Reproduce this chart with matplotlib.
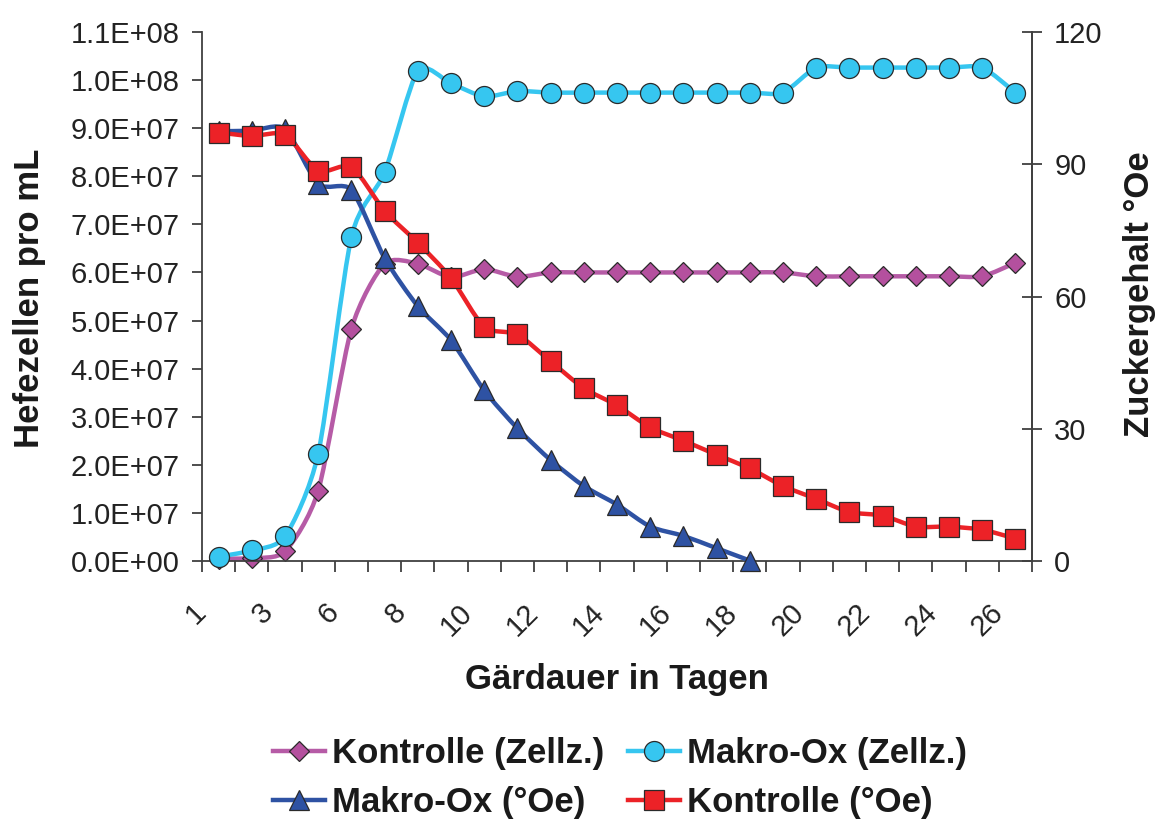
import numpy as np
import matplotlib
matplotlib.use("Agg")
import matplotlib.pyplot as plt
from matplotlib.path import Path
from matplotlib.patches import PathPatch
from matplotlib.lines import Line2D
from matplotlib.ticker import FuncFormatter, MultipleLocator
import matplotlib.transforms as mtransforms

plt.rcParams['font.family'] = ['Liberation Sans', 'DejaVu Sans']

# Gaerdauer (Tage) - one category per measurement
days = [1, 2, 3, 4, 6, 7, 8, 9, 10, 11, 12, 13, 14, 15, 16, 17, 18, 19, 20, 21, 22, 23, 24, 25, 26]

# Hefezellen pro mL
kontrolle_zellz = [0.05e7, 0.06e7, 0.2e7, 1.46e7, 4.83e7, 6.18e7, 6.18e7, 5.9e7, 6.07e7, 5.91e7,
                   6.0e7, 6.0e7, 6.0e7, 6.0e7, 6.0e7, 6.0e7, 6.0e7, 6.0e7, 5.92e7, 5.92e7,
                   5.92e7, 5.92e7, 5.92e7, 5.92e7, 6.2e7]
makro_zellz = [0.09e7, 0.22e7, 0.51e7, 2.23e7, 6.74e7, 8.08e7, 10.19e7, 9.93e7, 9.66e7, 9.77e7,
               9.74e7, 9.74e7, 9.74e7, 9.74e7, 9.74e7, 9.74e7, 9.74e7, 9.74e7, 10.26e7, 10.26e7,
               10.26e7, 10.26e7, 10.26e7, 10.26e7, 9.74e7]

# Zuckergehalt in Oechsle
makro_oe = [97.5, 97.6, 98.0, 85.5, 84.2, 68.7, 57.8, 50.1, 38.7, 30.1,
            22.9, 17.0, 12.8, 7.8, 5.7, 2.9, 0.1]
kontrolle_oe = [97.2, 96.4, 96.7, 88.5, 89.4, 79.4, 72.2, 64.2, 53.1, 51.4,
                45.3, 39.2, 35.3, 30.3, 27.3, 24.1, 21.0, 17.0, 14.1, 11.1,
                10.3, 7.8, 7.8, 7.1, 5.1]

labels = ['Kontrolle (Zellz.)', 'Makro-Ox (Zellz.)', 'Makro-Ox (°Oe)', 'Kontrolle (°Oe)']

c_purple_line = '#b65ba6'
c_purple = '#b4509e'
c_cyan = '#36c6f0'
c_blue = '#2e52a3'
c_red = '#ec2227'
c_edge = '#2a2a2a'
c_axis = '#404040'


def smooth_path(x, y, k=0.12):
    # cardinal spline as cubic bezier, a bit like Excel's "smoothed line"
    pts = np.column_stack([x, y]).astype(float)
    n = len(pts)
    verts = [pts[0]]
    codes = [Path.MOVETO]
    for i in range(n - 1):
        p0 = pts[i - 1] if i > 0 else pts[i]
        p1 = pts[i]
        p2 = pts[i + 1]
        p3 = pts[i + 2] if i + 2 < n else pts[i + 1]
        verts += [p1 + (p2 - p0) * k, p2 - (p3 - p1) * k, p2]
        codes += [Path.CURVE4] * 3
    return Path(verts, codes)


def draw_series(ax, y, line_color, marker, face, ms, z):
    x = np.arange(1, len(y) + 1)
    ax.add_patch(PathPatch(smooth_path(x, y), fill=False, edgecolor=line_color,
                           lw=3.2, capstyle='round', joinstyle='round', zorder=z))
    ax.plot(x, y, linestyle='none', marker=marker, markersize=ms, markerfacecolor=face,
            markeredgecolor=c_edge, markeredgewidth=0.9, zorder=z + 0.5, clip_on=False)


fig = plt.figure(figsize=(11.59, 8.22), dpi=100)
ax = fig.add_axes([202 / 1159, 1 - 561 / 822, 830 / 1159, 529 / 822])
ax2 = ax.twinx()

draw_series(ax, kontrolle_zellz, c_purple_line, 'D', c_purple, 10.6, 2)
draw_series(ax, makro_zellz, c_cyan, 'o', c_cyan, 14.4, 3)
draw_series(ax2, makro_oe, c_blue, '^', c_blue, 14.8, 2)
draw_series(ax2, kontrolle_oe, c_red, 's', c_red, 14.0, 3)

ax.set_xlim(0.5, len(days) + 0.5)
ax.set_ylim(0, 1.1e8)
ax2.set_ylim(0, 120)

ax.yaxis.set_major_locator(MultipleLocator(1e7))
ax.yaxis.set_major_formatter(FuncFormatter(lambda v, p: '%.1E' % v))
ax2.yaxis.set_major_locator(MultipleLocator(30))

# ticks on the category borders, labels on every second category
ax.set_xticks(np.arange(0.5, len(days) + 1, 1.0), minor=True)
ax.set_xticks(np.arange(1, len(days) + 1, 2))
ax.set_xticklabels([str(d) for d in days[::2]])
ax.tick_params(axis='x', which='major', length=0, pad=34, labelsize=21, labelrotation=45,
               colors='#222222')
ax.tick_params(axis='x', which='minor', length=8, width=1.3, color=c_axis, direction='out')
for lab in ax.get_xticklabels():
    lab.set_ha('right')
    lab.set_va('center')
    lab.set_rotation_mode('anchor')
    lab.set_transform(lab.get_transform() + mtransforms.ScaledTranslation(-12 / 72, 0, fig.dpi_scale_trans))

ax.tick_params(axis='y', length=7, width=1.3, color=c_axis, direction='out', pad=9,
               labelsize=21, labelcolor='#222222')
ax2.tick_params(axis='y', length=14, width=1.3, color=c_axis, direction='inout', pad=9,
                labelsize=21, labelcolor='#222222')

for a in (ax, ax2):
    a.spines['top'].set_visible(False)
    for s in ('left', 'right', 'bottom'):
        a.spines[s].set_color(c_axis)
        a.spines[s].set_linewidth(1.3)
ax2.spines['left'].set_visible(False)
ax2.spines['bottom'].set_visible(False)

fig.text(30 / 1159, 1 - 298 / 822, 'Hefezellen pro mL', rotation=90, fontsize=25,
         fontweight='bold', ha='center', va='center', color='#1a1a1a')
fig.text(1140 / 1159, 1 - 294 / 822, 'Zuckergehalt °Oe', rotation=90, fontsize=25,
         fontweight='bold', ha='center', va='center', color='#1a1a1a')
fig.text(617 / 1159, 1 - 679 / 822, 'Gärdauer in Tagen', fontsize=25,
         fontweight='bold', ha='center', va='center', color='#1a1a1a')

handles = [
    Line2D([], [], color=c_purple_line, lw=3.2, marker='D', ms=10.6, mfc=c_purple, mec=c_edge, mew=0.9),
    Line2D([], [], color=c_blue, lw=3.2, marker='^', ms=14.8, mfc=c_blue, mec=c_edge, mew=0.9),
    Line2D([], [], color=c_cyan, lw=3.2, marker='o', ms=14.4, mfc=c_cyan, mec=c_edge, mew=0.9),
    Line2D([], [], color=c_red, lw=3.2, marker='s', ms=14.0, mfc=c_red, mec=c_edge, mew=0.9),
]
leg_labels = [labels[0], labels[2], labels[1], labels[3]]
fig.legend(handles, leg_labels, loc='center', bbox_to_anchor=(620 / 1159, 1 - 778 / 822),
           ncol=2, frameon=False, prop={'size': 25, 'weight': 'bold'}, handlelength=1.5,
           handletextpad=0.2, columnspacing=0.7, labelspacing=0.45, borderpad=0)
for t in fig.legends[0].get_texts():
    t.set_color('#1a1a1a')

fig.savefig('out.png', dpi=100)
